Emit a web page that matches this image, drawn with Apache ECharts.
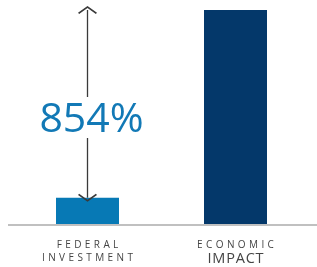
<!DOCTYPE html>
<html>
<head>
<meta charset="utf-8">
<script src="https://cdn.jsdelivr.net/npm/echarts@6/dist/echarts.min.js"></script>
<style>
  html, body { margin: 0; padding: 0; background: #fff; }
  #chart { width: 317px; height: 267px; }
</style>
</head>
<body>
<div id="chart"></div>
<script>
var categories = ["FEDERAL\nINVESTMENT", "ECONOMIC\nIMPACT"];
var values = [1, 8.14];
var barColors = ["#0779b5", "#04386a"];
var increaseLabel = "854%";
var labelLevel = 4.05;

var chart = echarts.init(document.getElementById("chart"));

// wrap each letter in its own rich token so it can be spaced out
function spaced(word, style) {
  return word.split("").map(function (ch) {
    return "{" + style + "|" + ch + "}";
  }).join("");
}

var option = {
  animation: false,
  grid: { left: 13.5, right: 7.5, top: 10, bottom: 43 },
  xAxis: {
    type: "category",
    data: categories,
    axisLine: { show: false },
    axisTick: { show: false },
    axisLabel: {
      margin: 15,
      interval: 0,
      formatter: function (v, i) {
        var parts = v.split("\n");
        if (i === 1) return spaced(parts[0], "a") + "\n" + spaced(parts[1], "b");
        return spaced(parts[0], "a") + "\n" + spaced(parts[1], "a");
      },
      rich: {
        a: { fontFamily: "Open Sans", fontSize: 10, color: "#444", lineHeight: 13, padding: [0, 1.7] },
        b: { fontFamily: "Open Sans", fontSize: 14.5, color: "#444", lineHeight: 14, padding: [0, 0.4] }
      }
    }
  },
  yAxis: { type: "value", min: 0, max: values[1], show: false },
  series: [
    {
      type: "bar",
      barWidth: 63,
      data: values.map(function (v, i) {
        return { value: v, itemStyle: { color: barColors[i] } };
      }),
      markLine: {
        silent: true,
        symbol: ["path://M0,0 L10,8 L8.8,9.4 L0,2.4 L-8.8,9.4 L-10,8 Z", "path://M0,0 L10,8 L8.8,9.4 L0,2.4 L-8.8,9.4 L-10,8 Z"],
        symbolSize: [19, 8],
        label: { show: false },
        lineStyle: { color: "#3a3a3a", width: 1.3, type: "solid" },
        data: [[{ coord: [0, values[0]] }, { coord: [0, values[1]] }]]
      },
      markPoint: {
        z: 6,
        silent: true,
        symbol: "rect",
        symbolSize: [104, 41],
        symbolOffset: [4, 0],
        itemStyle: { color: "#fff" },
        label: {
          show: true,
          position: "inside",
          offset: [0, 3],
          formatter: increaseLabel,
          fontFamily: "Open Sans",
          fontSize: 41,
          color: "#1279b6"
        },
        data: [{ coord: [0, labelLevel] }]
      }
    }
  ]
};

chart.setOption(option);

// baseline rule spanning the whole width
var baseY = chart.convertToPixel({ yAxisIndex: 0 }, 0);
chart.setOption({
  graphic: [{
    type: "line",
    shape: { x1: 8, y1: baseY + 1, x2: 317, y2: baseY + 1 },
    style: { stroke: "#c0c0c0", lineWidth: 2 },
    silent: true
  }]
});
</script>
</body>
</html>
